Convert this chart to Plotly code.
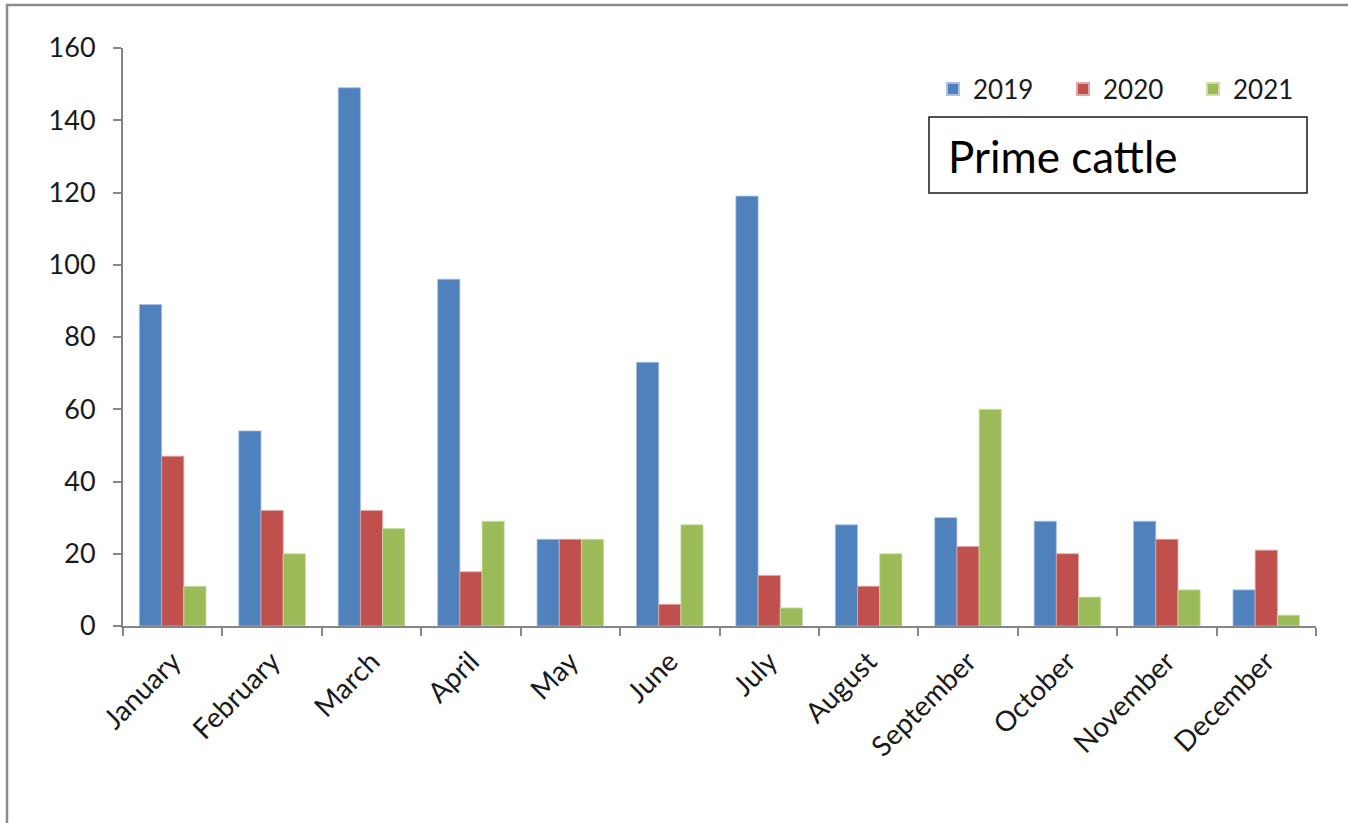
import plotly.graph_objects as go

months = ["January", "February", "March", "April", "May", "June", "July",
          "August", "September", "October", "November", "December"]
v2019 = [89, 54, 149, 96, 24, 73, 119, 28, 30, 29, 29, 10]
v2020 = [47, 32, 32, 15, 24, 6, 14, 11, 22, 20, 24, 21]
v2021 = [11, 20, 27, 29, 24, 28, 5, 20, 60, 8, 10, 3]
series_names = ["2019", "2020", "2021"]
colors = ["#4F81BD", "#C0504D", "#9BBB59"]
edge = ["#A9C0DE", "#E0A8A6", "#CDDDAC"]

FONT = "Lato"
TXT = "#1a1a1a"
fig = go.Figure()
for name, vals, c, e in zip(series_names, [v2019, v2020, v2021], colors, edge):
    fig.add_trace(go.Bar(x=months, y=vals, name=name, marker_color=c,
                         marker_line=dict(color=e, width=0.8)))

L, R, T, B = 123, 32, 48, 197
W, H = 1348, 823
pw, ph = W - L - R, H - T - B

def px(x):
    return (x - L) / pw

def py(y):
    return (H - B - y) / ph

fig.update_layout(
    width=W, height=H,
    margin=dict(l=L, r=R, t=T, b=B, autoexpand=False),
    paper_bgcolor="white", plot_bgcolor="white",
    barmode="group", bargap=0.33, bargroupgap=0,
    font=dict(family=FONT, color=TXT),
    showlegend=True,
    legend=dict(orientation="h", x=px(933), y=py(89), xanchor="left", yanchor="middle",
                font=dict(size=26, family=FONT, color=TXT),
                entrywidth=85, entrywidthmode="pixels",
                itemsizing="constant", bgcolor="rgba(0,0,0,0)"),
    xaxis=dict(showline=True, linecolor="#868686", linewidth=2,
               ticks="outside", ticklen=8, tickcolor="#868686", tickwidth=2,
               tickson="boundaries", tickangle=-45, ticklabelstandoff=6,
               tickfont=dict(size=28, family=FONT, color=TXT),
               showgrid=False, zeroline=False),
    yaxis=dict(range=[0, 160], dtick=20, showline=True, linecolor="#868686", linewidth=2,
               ticks="outside", ticklen=8, tickcolor="#868686", tickwidth=2,
               ticklabelstandoff=12,
               tickfont=dict(size=27, family=FONT, color=TXT),
               showgrid=False, zeroline=False),
    shapes=[
        dict(type="rect", xref="paper", yref="paper",
             x0=px(7), x1=px(1400), y0=py(900), y1=py(5),
             line=dict(color="#8c8c8c", width=2.5), fillcolor="rgba(0,0,0,0)", layer="below"),
        dict(type="rect", xref="paper", yref="paper",
             x0=px(929), x1=px(1307), y0=py(193), y1=py(117),
             line=dict(color=TXT, width=1.5), fillcolor="white"),
    ],
    annotations=[
        dict(text="Prime cattle", xref="paper", yref="paper", x=px(946), y=py(156),
             xanchor="left", yanchor="middle", showarrow=False,
             font=dict(size=44, family=FONT, color="black")),
    ],
)

fig.write_html("out.html", config={"displayModeBar": False},
               post_script="document.body.style.margin='0';")
